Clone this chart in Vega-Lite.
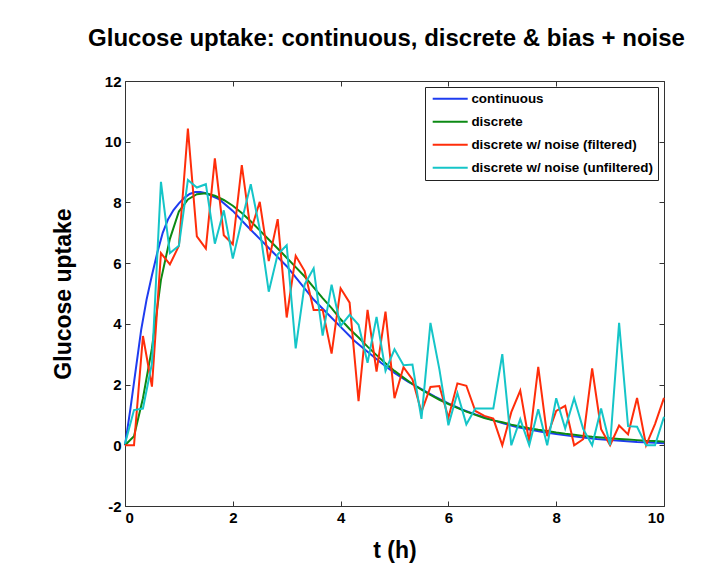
{
  "$schema": "https://vega.github.io/schema/vega-lite/v6.json",
  "autosize": {"type": "none"},
  "width": 539,
  "height": 425,
  "padding": {"left": 125, "top": 81, "right": 48, "bottom": 65},
  "background": "white",
  "title": {"text": "Glucose uptake: continuous, discrete & bias + noise", "font": "Liberation Sans", "fontSize": 24, "fontWeight": "bold", "color": "black", "anchor": "middle", "offset": 23, "dx": -8},
  "datasets": {
    "continuous": [
      {"t": 0, "v": 0}, {"t": 0.1, "v": 1.2}, {"t": 0.2, "v": 2.5}, {"t": 0.3, "v": 3.8}, {"t": 0.4, "v": 4.8},
      {"t": 0.5, "v": 5.6}, {"t": 0.6, "v": 6.35}, {"t": 0.7, "v": 7.0}, {"t": 0.8, "v": 7.45}, {"t": 0.9, "v": 7.75},
      {"t": 1.0, "v": 7.97}, {"t": 1.1, "v": 8.15}, {"t": 1.2, "v": 8.28}, {"t": 1.3, "v": 8.34}, {"t": 1.4, "v": 8.34},
      {"t": 1.5, "v": 8.3}, {"t": 1.75, "v": 8.1}, {"t": 2.0, "v": 7.72}, {"t": 2.25, "v": 7.25}, {"t": 2.5, "v": 6.8},
      {"t": 2.75, "v": 6.35}, {"t": 3.0, "v": 5.9}, {"t": 3.25, "v": 5.35}, {"t": 3.5, "v": 4.8}, {"t": 3.75, "v": 4.35},
      {"t": 4.0, "v": 3.9}, {"t": 4.25, "v": 3.45}, {"t": 4.5, "v": 3.08}, {"t": 4.75, "v": 2.72}, {"t": 5.0, "v": 2.38},
      {"t": 5.25, "v": 2.1}, {"t": 5.5, "v": 1.85}, {"t": 5.75, "v": 1.6}, {"t": 6.0, "v": 1.38}, {"t": 6.25, "v": 1.18},
      {"t": 6.5, "v": 1.02}, {"t": 6.75, "v": 0.87}, {"t": 7.0, "v": 0.73}, {"t": 7.25, "v": 0.61}, {"t": 7.5, "v": 0.52},
      {"t": 7.75, "v": 0.44}, {"t": 8.0, "v": 0.37}, {"t": 8.25, "v": 0.31}, {"t": 8.5, "v": 0.26}, {"t": 8.75, "v": 0.21},
      {"t": 9.0, "v": 0.17}, {"t": 9.25, "v": 0.14}, {"t": 9.5, "v": 0.11}, {"t": 9.75, "v": 0.09}, {"t": 10.0, "v": 0.07}
    ],
    "discrete": [
      {"t": 0, "v": 0}, {"t": 0.167, "v": 0.3}, {"t": 0.333, "v": 1.55}, {"t": 0.5, "v": 3.2}, {"t": 0.667, "v": 5.45},
      {"t": 0.833, "v": 6.8}, {"t": 1.0, "v": 7.7}, {"t": 1.167, "v": 8.1}, {"t": 1.333, "v": 8.27}, {"t": 1.5, "v": 8.3},
      {"t": 1.667, "v": 8.22}, {"t": 1.833, "v": 8.08}, {"t": 2.0, "v": 7.89}, {"t": 2.167, "v": 7.65}, {"t": 2.333, "v": 7.38},
      {"t": 2.5, "v": 7.08}, {"t": 2.667, "v": 6.78}, {"t": 2.833, "v": 6.48}, {"t": 3.0, "v": 6.18}, {"t": 3.167, "v": 5.87},
      {"t": 3.333, "v": 5.56}, {"t": 3.5, "v": 5.2}, {"t": 3.667, "v": 4.85}, {"t": 3.833, "v": 4.52}, {"t": 4.0, "v": 4.15},
      {"t": 4.167, "v": 3.83}, {"t": 4.333, "v": 3.55}, {"t": 4.5, "v": 3.25}, {"t": 4.667, "v": 2.97}, {"t": 4.833, "v": 2.7},
      {"t": 5.0, "v": 2.45}, {"t": 5.167, "v": 2.23}, {"t": 5.333, "v": 2.02}, {"t": 5.5, "v": 1.83}, {"t": 5.667, "v": 1.66},
      {"t": 5.833, "v": 1.5}, {"t": 6.0, "v": 1.36}, {"t": 6.167, "v": 1.23}, {"t": 6.333, "v": 1.11}, {"t": 6.5, "v": 1.0},
      {"t": 6.667, "v": 0.9}, {"t": 6.833, "v": 0.82}, {"t": 7.0, "v": 0.76}, {"t": 7.167, "v": 0.68}, {"t": 7.333, "v": 0.62},
      {"t": 7.5, "v": 0.56}, {"t": 7.667, "v": 0.51}, {"t": 7.833, "v": 0.47}, {"t": 8.0, "v": 0.42}, {"t": 8.167, "v": 0.38},
      {"t": 8.333, "v": 0.35}, {"t": 8.5, "v": 0.31}, {"t": 8.667, "v": 0.28}, {"t": 8.833, "v": 0.26}, {"t": 9.0, "v": 0.23},
      {"t": 9.167, "v": 0.21}, {"t": 9.333, "v": 0.19}, {"t": 9.5, "v": 0.17}, {"t": 9.667, "v": 0.15}, {"t": 9.833, "v": 0.14},
      {"t": 10.0, "v": 0.12}
    ],
    "filtered": [
      {"t": 0, "v": 0}, {"t": 0.167, "v": 0}, {"t": 0.333, "v": 3.6}, {"t": 0.5, "v": 1.93}, {"t": 0.667, "v": 6.33},
      {"t": 0.833, "v": 5.96}, {"t": 1.0, "v": 6.57}, {"t": 1.167, "v": 10.43}, {"t": 1.333, "v": 6.88}, {"t": 1.5, "v": 6.48},
      {"t": 1.667, "v": 9.45}, {"t": 1.833, "v": 6.92}, {"t": 2.0, "v": 6.62}, {"t": 2.167, "v": 9.23}, {"t": 2.333, "v": 7.06},
      {"t": 2.5, "v": 8.02}, {"t": 2.667, "v": 6.07}, {"t": 2.833, "v": 7.45}, {"t": 3.0, "v": 4.21}, {"t": 3.167, "v": 6.24},
      {"t": 3.333, "v": 5.74}, {"t": 3.5, "v": 4.46}, {"t": 3.667, "v": 4.46}, {"t": 3.833, "v": 3.02}, {"t": 4.0, "v": 5.17},
      {"t": 4.167, "v": 4.7}, {"t": 4.333, "v": 1.45}, {"t": 4.5, "v": 4.46}, {"t": 4.667, "v": 2.43}, {"t": 4.833, "v": 4.4},
      {"t": 5.0, "v": 1.55}, {"t": 5.167, "v": 2.57}, {"t": 5.333, "v": 2.17}, {"t": 5.5, "v": 1.1}, {"t": 5.667, "v": 1.92},
      {"t": 5.833, "v": 1.95}, {"t": 6.0, "v": 0.91}, {"t": 6.167, "v": 2.04}, {"t": 6.333, "v": 1.96}, {"t": 6.5, "v": 1.13},
      {"t": 6.667, "v": 0.97}, {"t": 6.833, "v": 0.88}, {"t": 7.0, "v": 0}, {"t": 7.167, "v": 1.09}, {"t": 7.333, "v": 1.8},
      {"t": 7.5, "v": 0.1}, {"t": 7.667, "v": 2.58}, {"t": 7.833, "v": 0.3}, {"t": 8.0, "v": 1.13}, {"t": 8.167, "v": 1.3},
      {"t": 8.333, "v": 0}, {"t": 8.5, "v": 0.2}, {"t": 8.667, "v": 2.53}, {"t": 8.833, "v": 0.53}, {"t": 9.0, "v": 0},
      {"t": 9.167, "v": 0.65}, {"t": 9.333, "v": 0.36}, {"t": 9.5, "v": 1.56}, {"t": 9.667, "v": 0}, {"t": 9.833, "v": 0.7},
      {"t": 10.0, "v": 1.56}
    ],
    "unfiltered": [
      {"t": 0, "v": 0.05}, {"t": 0.167, "v": 1.16}, {"t": 0.333, "v": 1.21}, {"t": 0.5, "v": 2.7}, {"t": 0.667, "v": 8.68},
      {"t": 0.833, "v": 6.33}, {"t": 1.0, "v": 6.57}, {"t": 1.167, "v": 8.74}, {"t": 1.333, "v": 8.49}, {"t": 1.5, "v": 8.6},
      {"t": 1.667, "v": 6.64}, {"t": 1.833, "v": 7.74}, {"t": 2.0, "v": 6.15}, {"t": 2.167, "v": 7.4}, {"t": 2.333, "v": 8.6},
      {"t": 2.5, "v": 7.12}, {"t": 2.667, "v": 5.06}, {"t": 2.833, "v": 6.29}, {"t": 3.0, "v": 6.59}, {"t": 3.167, "v": 3.19},
      {"t": 3.333, "v": 5.3}, {"t": 3.5, "v": 5.83}, {"t": 3.667, "v": 3.61}, {"t": 3.833, "v": 5.29}, {"t": 4.0, "v": 3.93},
      {"t": 4.167, "v": 4.3}, {"t": 4.333, "v": 3.97}, {"t": 4.5, "v": 2.72}, {"t": 4.667, "v": 4.23}, {"t": 4.833, "v": 2.45},
      {"t": 5.0, "v": 3.16}, {"t": 5.167, "v": 2.64}, {"t": 5.333, "v": 2.66}, {"t": 5.5, "v": 0.87}, {"t": 5.667, "v": 4.03},
      {"t": 5.833, "v": 2.5}, {"t": 6.0, "v": 0.66}, {"t": 6.167, "v": 1.72}, {"t": 6.333, "v": 0.69}, {"t": 6.5, "v": 1.21},
      {"t": 6.667, "v": 1.21}, {"t": 6.833, "v": 1.21}, {"t": 7.0, "v": 3.0}, {"t": 7.167, "v": 0}, {"t": 7.333, "v": 0.86},
      {"t": 7.5, "v": 0}, {"t": 7.667, "v": 1.19}, {"t": 7.833, "v": 0}, {"t": 8.0, "v": 1.55}, {"t": 8.167, "v": 0.55},
      {"t": 8.333, "v": 1.55}, {"t": 8.5, "v": 0.54}, {"t": 8.667, "v": 0}, {"t": 8.833, "v": 1.21}, {"t": 9.0, "v": 0},
      {"t": 9.167, "v": 4.03}, {"t": 9.333, "v": 0.63}, {"t": 9.5, "v": 0.61}, {"t": 9.667, "v": 0}, {"t": 9.833, "v": 0},
      {"t": 10.0, "v": 0.94}
    ]
  },
  "resolve": {"axis": {"x": "independent", "y": "independent"}},
  "layer": [
    {
      "data": {"name": "continuous"},
      "mark": {"type": "line", "strokeWidth": 2},
      "encoding": {
        "x": {"field": "t", "type": "quantitative", "scale": {"domain": [0, 10], "nice": false},
              "axis": {"orient": "bottom", "title": "t (h)", "values": [0, 2, 4, 6, 8, 10], "titlePadding": 14, "labelExpr": "'' + datum.value"}},
        "y": {"field": "v", "type": "quantitative", "scale": {"domain": [-2, 12], "nice": false, "zero": false},
              "axis": {"orient": "left", "title": "Glucose uptake", "values": [-2, 0, 2, 4, 6, 8, 10, 12], "titlePadding": 29, "labelExpr": "'' + datum.value"}},
        "color": {"datum": "continuous", "type": "nominal",
                  "scale": {"domain": ["continuous", "discrete", "discrete w/ noise (filtered)", "discrete w/ noise (unfiltered)"],
                            "range": ["#1e3cf0", "#0c8a14", "#ff2d0a", "#15c5c8"]},
                  "legend": {"orient": "top-right", "offset": 6, "title": null, "strokeColor": "#222", "fillColor": "white",
                             "padding": 5, "labelFont": "Liberation Sans", "labelFontSize": 13.4, "labelFontWeight": "bold", "labelColor": "black",
                             "labelLimit": 400,
                             "symbolType": "M-3.5,0H3.5", "symbolSize": 100, "symbolStrokeWidth": 2,
                             "symbolOffset": 13.5, "labelOffset": 14.5, "rowPadding": 8}}
      }
    },
    {
      "data": {"name": "discrete"},
      "mark": {"type": "line", "strokeWidth": 2},
      "encoding": {
        "x": {"field": "t", "type": "quantitative", "axis": null},
        "y": {"field": "v", "type": "quantitative", "axis": null},
        "color": {"datum": "discrete", "type": "nominal"}
      }
    },
    {
      "data": {"name": "filtered"},
      "mark": {"type": "line", "strokeWidth": 2},
      "encoding": {
        "x": {"field": "t", "type": "quantitative", "axis": null},
        "y": {"field": "v", "type": "quantitative", "axis": null},
        "color": {"datum": "discrete w/ noise (filtered)", "type": "nominal"}
      }
    },
    {
      "data": {"name": "unfiltered"},
      "mark": {"type": "line", "strokeWidth": 2},
      "encoding": {
        "x": {"field": "t", "type": "quantitative", "axis": null},
        "y": {"field": "v", "type": "quantitative", "axis": null},
        "color": {"datum": "discrete w/ noise (unfiltered)", "type": "nominal"}
      }
    },
    {
      "data": {"name": "discrete"},
      "mark": {"type": "point", "opacity": 0},
      "encoding": {
        "x": {"field": "t", "type": "quantitative", "axis": {"orient": "top", "labels": false, "title": null, "values": [0, 2, 4, 6, 8, 10]}},
        "y": {"field": "v", "type": "quantitative", "axis": {"orient": "right", "labels": false, "title": null, "values": [-2, 0, 2, 4, 6, 8, 10, 12]}}
      }
    }
  ],
  "config": {
    "view": {"stroke": "#333", "strokeWidth": 1},
    "axis": {"domain": false, "grid": false, "tickSize": -5, "tickColor": "#333", "tickWidth": 1,
             "labelFont": "Liberation Sans", "labelFontSize": 15, "labelFontWeight": "bold", "labelColor": "black", "labelPadding": 9,
             "titleFont": "Liberation Sans", "titleFontSize": 23, "titleFontWeight": "bold", "titleColor": "black"}
  }
}
